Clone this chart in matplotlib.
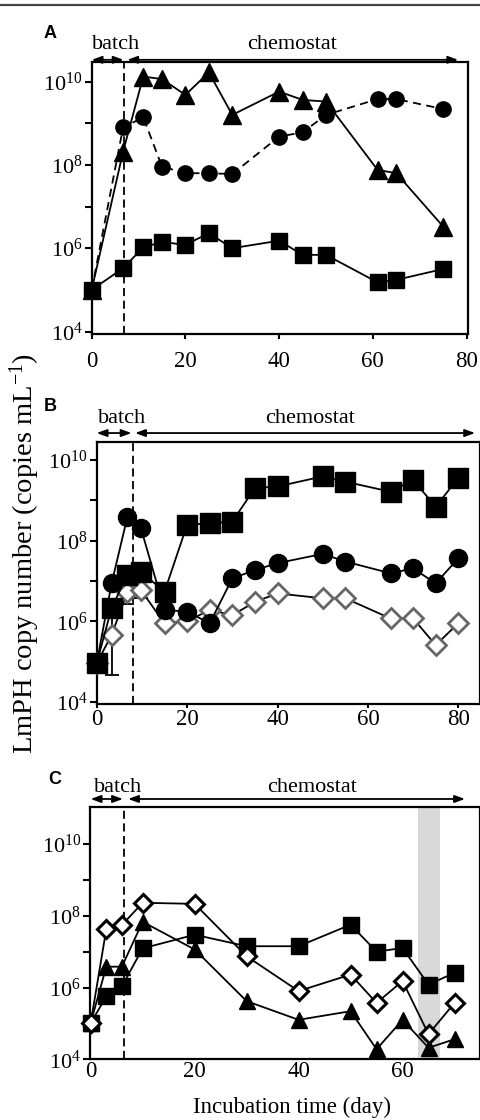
import numpy as np
import matplotlib
matplotlib.use("Agg")
import matplotlib.pyplot as plt
from matplotlib.lines import Line2D

plt.rcParams['font.family'] = ['Liberation Serif', 'DejaVu Serif']
plt.rcParams['mathtext.fontset'] = 'custom'
plt.rcParams['mathtext.rm'] = 'Liberation Serif'
plt.rcParams['mathtext.it'] = 'Liberation Serif:italic'

# ---------------- data (log10 copies/mL) ----------------
# Panel A
a_days = [0, 6.7, 11, 15, 20, 25, 30, 40, 45, 50, 61, 65, 75]
a_square_log = [5.0, 5.52, 6.02, 6.15, 6.08, 6.36, 6.0, 6.18, 5.84, 5.84, 5.18, 5.24, 5.5]
a_triangle_log = [5.0, 8.32, 10.12, 10.06, 9.68, 10.22, 9.2, 9.76, 9.56, 9.52, 7.88, 7.8, 6.52]
a_circle_log = [5.0, 8.9, 9.14, 7.96, 7.8, 7.8, 7.78, 8.68, 8.78, 9.2, 9.58, 9.58, 9.34]

# Panel B
b_days = [0, 3.3, 6.8, 9.8, 15, 20, 25, 30, 35, 40, 50, 55, 65, 70, 75, 80]
b_square_log = [4.96, 6.33, 7.15, 7.23, 6.73, 8.39, 8.43, 8.47, 9.30, 9.34, 9.59, 9.46, 9.21, 9.50, 8.84, 9.55]
b_circle_log = [4.96, 6.94, 8.59, 8.30, 6.28, 6.24, 5.95, 7.06, 7.27, 7.44, 7.67, 7.48, 7.19, 7.31, 6.94, 7.56]
b_diamond_log = [4.96, 5.66, 6.73, 6.77, 5.95, 6.0, 6.28, 6.15, 6.48, 6.69, 6.57, 6.57, 6.07, 6.07, 5.41, 5.95]
b_square_err_low_log = [None, 4.66, None, None, None, None, None, None, None, None, None, None, None, None, None, None]
b_diamond_err_low_log = [None, None, 6.44, 6.57, None, None, None, None, None, None, None, None, None, None, None, None]

# Panel C
c_days = [0, 3, 6, 10, 20, 30, 40, 50, 55, 60, 65, 70]
c_square_log = [5.01, 5.75, 6.03, 7.09, 7.47, 7.15, 7.15, 7.75, 7.0, 7.1, 6.08, 6.41]
c_diamond_log = [5.01, 7.62, 7.74, 8.36, 8.33, 6.87, 5.9, 6.36, 5.57, 6.18, 4.70, 5.57]
c_triangle_log = [5.01, 6.58, 6.58, 7.83, 7.06, 5.62, 5.1, 5.34, 4.28, 5.1, 4.32, 4.56]
c_shade = (63, 67.3)

batch_end = {'A': 6.9, 'B': 8.0, 'C': 6.5}
xticks = [0, 20, 40, 60, 80]
ytick_exps = [4, 6, 8, 10]
ytick_labels = [r'$\mathregular{10^{%d}}$' % e for e in ytick_exps]


def v(lst):
    return 10.0 ** np.array(lst, dtype=float)


W, H = 481, 1120
fig = plt.figure(figsize=(W / 100, H / 100), dpi=100)


def add_axes(left, top, right, bottom):
    return fig.add_axes([left / W, 1 - bottom / H, (right - left) / W, (bottom - top) / H])


axA = add_axes(91.7, 62, 468, 334)
axB = add_axes(96.7, 441.7, 480, 704)
axC = add_axes(90, 807.3, 480, 1059.3)


def style_axis(ax, xlim, ylim_exp, xpad, xlen):
    ax.set_yscale('log')
    ax.set_xlim(*xlim)
    ax.set_ylim(10 ** ylim_exp[0], 10 ** ylim_exp[1])
    ax.set_yticks([10.0 ** e for e in ytick_exps])
    ax.set_yticklabels(ytick_labels)
    ax.set_yticks([1e5, 1e7, 1e9], minor=True)
    ax.yaxis.set_minor_formatter(matplotlib.ticker.NullFormatter())
    ax.set_xticks([t for t in xticks if t <= xlim[1] + 0.5])
    ax.set_xticklabels([str(t) for t in xticks if t <= xlim[1] + 0.5])
    ax.tick_params(axis='y', which='both', direction='out', length=5, width=1.5,
                   labelsize=16, pad=1.5)
    ax.tick_params(axis='x', which='both', direction='out', length=xlen, width=1.5,
                   labelsize=16.5, pad=xpad)
    for s in ax.spines.values():
        s.set_linewidth(1.6)


style_axis(axA, (0, 80.3), (3.94, 10.47), 9, 3.5)
style_axis(axB, (0, 84.8), (3.95, 10.45), 0.5, 3)
style_axis(axC, (-0.13, 74.9), (4.0, 11.02), 1.5, 0)

line_kw = dict(color='black', lw=1.3, clip_on=False, zorder=3)

# Panel A
axA.plot(a_days, v(a_circle_log), marker='o', ms=11, mfc='black', mec='black',
         ls=(0, (4.5, 3)), **line_kw)
axA.plot(a_days, v(a_triangle_log), marker='^', ms=12.5, mfc='black', mec='black',
         ls='-', **line_kw)
axA.plot(a_days, v(a_square_log), marker='s', ms=11, mfc='black', mec='black',
         ls='-', **line_kw)

# Panel B
def err_low(vals, lows):
    lo = []
    for val, l in zip(vals, lows):
        lo.append(0.0 if l is None else 10 ** val - 10 ** l)
    return [lo, [0.0] * len(lo)]


axB.errorbar(b_days, v(b_square_log), yerr=err_low(b_square_log, b_square_err_low_log),
             fmt='none', ecolor='black', elinewidth=1.3, capsize=5, capthick=1.3, zorder=2)
axB.errorbar(b_days, v(b_diamond_log), yerr=err_low(b_diamond_log, b_diamond_err_low_log),
             fmt='none', ecolor='black', elinewidth=1.3, capsize=5, capthick=1.3, zorder=2)
axB.plot(b_days, v(b_diamond_log), marker='D', ms=10, mfc='white', mec='#666666', mew=2,
         ls='-', **line_kw)
axB.plot(b_days, v(b_circle_log), marker='o', ms=13, mfc='black', mec='black',
         ls='-', **line_kw)
axB.plot(b_days, v(b_square_log), marker='s', ms=14, mfc='black', mec='black',
         ls='-', **line_kw)

# Panel C
axC.axvspan(c_shade[0], c_shade[1], color='#d9d9d9', zorder=0, lw=0)
axC.plot(c_days, v(c_square_log), marker='s', ms=12, mfc='black', mec='black',
         ls='-', **line_kw)
axC.plot(c_days, v(c_triangle_log), marker='^', ms=12, mfc='black', mec='black',
         ls='-', **line_kw)
axC.plot(c_days, v(c_diamond_log), marker='D', ms=9, mfc='white', mec='black', mew=2.2,
         ls='-', **line_kw)

# dashed batch/chemostat boundary
for ax, key in [(axA, 'A'), (axB, 'B'), (axC, 'C')]:
    ax.axvline(batch_end[key], color='black', lw=1.3, ls=(0, (4.5, 2.5)), zorder=1)


def phase_arrows(ax, yarr, ytxt, b0, b1, c0, c1, bx, cx):
    ap = dict(arrowstyle='<|-|>,head_length=0.6,head_width=0.22', lw=1.3, color='black',
              shrinkA=0, shrinkB=0)
    ax.annotate('', xy=(b1, yarr), xytext=(b0, yarr), xycoords=('data', 'axes fraction'),
                textcoords=('data', 'axes fraction'), arrowprops=ap, annotation_clip=False)
    ax.annotate('', xy=(c1, yarr), xytext=(c0, yarr), xycoords=('data', 'axes fraction'),
                textcoords=('data', 'axes fraction'), arrowprops=ap, annotation_clip=False)
    ax.text(bx, ytxt, 'batch', transform=ax.get_xaxis_transform(), ha='center',
            va='center', fontsize=16)
    ax.text(cx, ytxt, 'chemostat', transform=ax.get_xaxis_transform(), ha='center',
            va='center', fontsize=16)


phase_arrows(axA, 1.008, 1.063, 0, 6.8, 7.6, 78.2, 5.2, 42.7)
phase_arrows(axB, 1.033, 1.087, 0, 7.7, 8.5, 83.7, 5.6, 47.2)
phase_arrows(axC, 1.033, 1.077, 0, 6.2, 7.2, 72.0, 5.25, 42.6)

# panel letters
for lbl, x, y in [('A', 50, 33), ('B', 50, 407), ('C', 55, 779)]:
    fig.text(x / W, 1 - y / H, lbl, fontfamily='Liberation Sans', fontweight='bold',
             fontsize=13, ha='center', va='center')

fig.text(25 / W, 1 - 553 / H, r'LmPH copy number (copies mL$^{-1}$)', rotation=90,
         ha='center', va='center', fontsize=20.5)
fig.text(292.5 / W, 1 - 1107 / H, 'Incubation time (day)', ha='center', va='center',
         fontsize=16.5)

# top border line
fig.add_artist(Line2D([0, 1], [1 - 5 / H, 1 - 5 / H], transform=fig.transFigure,
                      color='#444444', lw=1.6))

fig.savefig('out.png', dpi=100)
